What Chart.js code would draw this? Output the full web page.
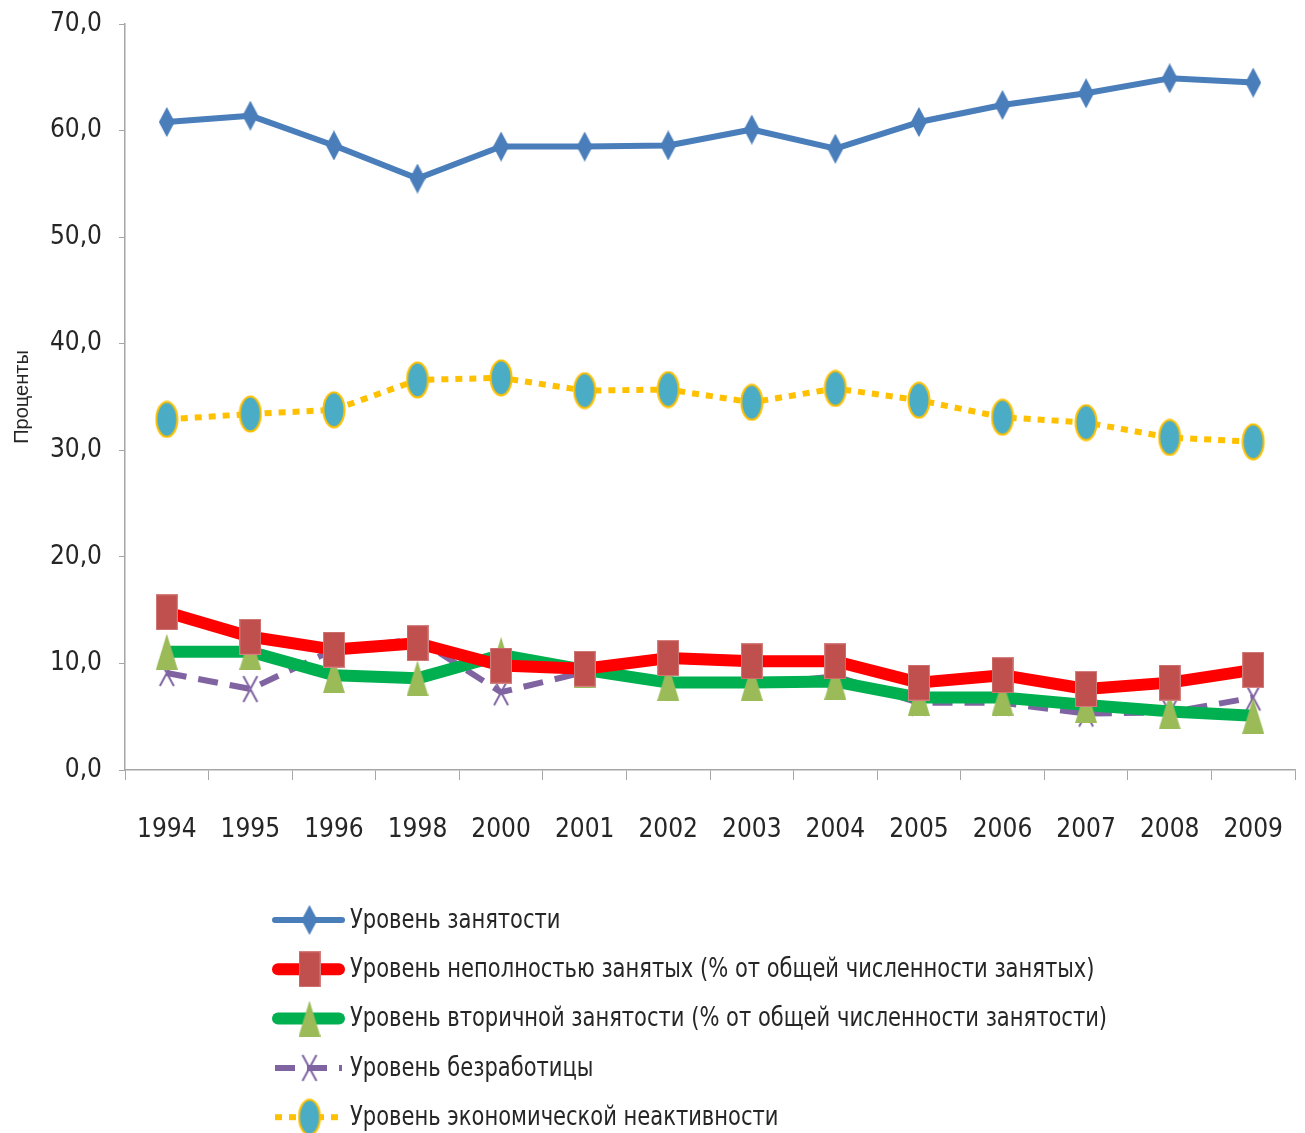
<!DOCTYPE html>
<html>
<head>
<meta charset="utf-8">
<script src="https://cdn.jsdelivr.net/npm/chart.js@4.4.0/dist/chart.umd.min.js"></script>
<style>
html, body { margin: 0; background: #fff; overflow: hidden; }
#wrap { width: 1305px; height: 1133px; }
canvas { display: block; }
</style>
</head>
<body>
<div id="wrap"><canvas id="c"></canvas></div>
<script>
const years = ['1994', '1995', '1996', '1998', '2000', '2001', '2002', '2003', '2004', '2005', '2006', '2007', '2008', '2009'];
const employment   = [60.8, 61.4, 58.6, 55.5, 58.5, 58.5, 58.6, 60.1, 58.3, 60.8, 62.4, 63.5, 64.9, 64.5];
const partTime     = [14.8, 12.5, 11.3, 11.9, 9.8, 9.5, 10.5, 10.2, 10.2, 8.2, 8.9, 7.6, 8.2, 9.4];
const secondary    = [11.1, 11.1, 8.9, 8.6, 10.8, 9.4, 8.2, 8.2, 8.3, 6.8, 6.8, 6.1, 5.5, 5.1];
const unemployment = [9.1, 7.6, 11.3, 12.3, 7.3, 9.2, 8.2, 8.0, 8.8, 6.3, 6.3, 5.3, 5.4, 6.8];
const inactivity   = [32.9, 33.4, 33.8, 36.6, 36.8, 35.6, 35.7, 34.5, 35.8, 34.7, 33.1, 32.6, 31.2, 30.8];
const seriesNames = [
  'Уровень занятости',
  'Уровень неполностью занятых (% от общей численности занятых)',
  'Уровень вторичной занятости (% от общей численности занятости)',
  'Уровень безработицы',
  'Уровень экономической неактивности'
];

const FONT = "'Liberation Sans Narrow', 'DejaVu Sans Condensed', 'Liberation Sans', sans-serif";

// marker images (the source chart is squeezed horizontally, so markers are tall)
function marker(w, h, draw) {
  const cv = document.createElement('canvas');
  cv.width = w; cv.height = h;
  draw(cv.getContext('2d'), w, h);
  return cv;
}
const diamond = marker(16, 30, (g, w, h) => {
  g.fillStyle = '#4a7ebb';
  g.beginPath(); g.moveTo(w / 2, 0); g.lineTo(w, h / 2); g.lineTo(w / 2, h); g.lineTo(0, h / 2); g.closePath(); g.fill();
});
const square = marker(22, 36, (g, w, h) => {
  g.fillStyle = '#c0504d'; g.fillRect(0, 0, w, h);
  g.strokeStyle = '#d27f7d'; g.lineWidth = 1; g.strokeRect(0.5, 0.5, w - 1, h - 1);
});
const triangle = marker(22, 36, (g, w, h) => {
  g.fillStyle = '#9bbb59';
  g.beginPath(); g.moveTo(w / 2, 0); g.lineTo(w, h); g.lineTo(0, h); g.closePath(); g.fill();
});
const cross = marker(18, 30, (g, w, h) => {
  g.strokeStyle = '#8064a2'; g.lineWidth = 2;
  g.beginPath(); g.moveTo(2, 2); g.lineTo(w - 2, h - 2); g.moveTo(w - 2, 2); g.lineTo(2, h - 2); g.stroke();
});
const ellipse = marker(24, 38, (g, w, h) => {
  g.fillStyle = '#4bacc6'; g.strokeStyle = '#ffc000'; g.lineWidth = 2;
  g.beginPath(); g.ellipse(w / 2, h / 2, w / 2 - 1.5, h / 2 - 1.5, 0, 0, Math.PI * 2); g.fill(); g.stroke();
});

const sets = [
  { data: employment, borderColor: '#4a7ebb', borderWidth: 6, pointStyle: diamond },
  { data: partTime, borderColor: '#ff0000', borderWidth: 12, pointStyle: square },
  { data: secondary, borderColor: '#00b050', borderWidth: 12, pointStyle: triangle },
  { data: unemployment, borderColor: '#8064a2', borderWidth: 6, borderDash: [20, 12], pointStyle: cross },
  { data: inactivity, borderColor: '#ffc000', borderWidth: 6, borderDash: [7, 7], pointStyle: ellipse }
].map((d, i) => Object.assign({
  label: seriesNames[i],
  tension: 0,
  fill: false,
  borderCapStyle: 'butt',
  borderJoinStyle: 'round',
  pointRadius: 10,
  pointHoverRadius: 10,
  backgroundColor: d.borderColor
}, d));

// legend drawn as a vertical list under the plot
const listLegend = {
  id: 'listLegend',
  afterDraw(chart) {
    const g = chart.ctx;
    const x0 = 272, x1 = 345, top = 920, step = 49.3;
    chart.data.datasets.forEach((ds, i) => {
      const y = top + i * step;
      g.save();
      g.strokeStyle = ds.borderColor;
      g.lineWidth = ds.borderWidth;
      g.lineCap = ds.borderDash ? 'butt' : 'round';
      g.setLineDash(ds.borderDash || []);
      g.beginPath(); g.moveTo(x0 + ds.borderWidth / 2, y); g.lineTo(x1 - ds.borderWidth / 2, y); g.stroke();
      g.setLineDash([]);
      const img = ds.pointStyle;
      g.drawImage(img, (x0 + x1) / 2 - img.width / 2 + 1, y - img.height / 2);
      g.fillStyle = '#262626';
      g.font = '26px ' + FONT;
      g.textBaseline = 'middle';
      g.translate(350, y + 1);
      g.scale(0.9, 1);
      g.fillText(ds.label, 0, 0);
      g.restore();
    });
  }
};

new Chart(document.getElementById('c'), {
  type: 'line',
  data: { labels: years, datasets: sets },
  plugins: [listLegend],
  options: {
    responsive: true,
    maintainAspectRatio: false,
    animation: false,
    layout: { autoPadding: false, padding: { top: 24, right: 10, left: 0, bottom: 250 } },
    plugins: {
      legend: { display: false },
      tooltip: { enabled: false }
    },
    scales: {
      x: {
        offset: true,
        afterFit: s => { s.height = 1133 - 770 - 250; s.paddingLeft = 0; s.paddingRight = 0; },
        grid: { offset: true, drawOnChartArea: false, color: '#a6a6a6', tickLength: 10 },
        border: { color: '#a6a6a6', width: 1.5 },
        ticks: { color: '#262626', font: { family: FONT, size: 26 }, padding: 35, maxRotation: 0 }
      },
      y: {
        min: 0,
        max: 70,
        afterFit: s => { s.width = 125; s.paddingTop = 0; s.paddingBottom = 0; },
        grid: { drawOnChartArea: false, color: '#a6a6a6', tickLength: 6 },
        border: { color: '#a6a6a6', width: 1.5 },
        ticks: {
          stepSize: 10,
          color: '#262626',
          font: { family: FONT, size: 26 },
          padding: 17,
          callback: v => v.toFixed(1).replace('.', ',')
        },
        title: {
          display: true,
          text: 'Проценты',
          color: '#262626',
          font: { family: "'Liberation Sans', Arial, sans-serif", size: 20 },
          padding: { top: 10, bottom: 12 }
        }
      }
    }
  }
});
</script>
</body>
</html>
